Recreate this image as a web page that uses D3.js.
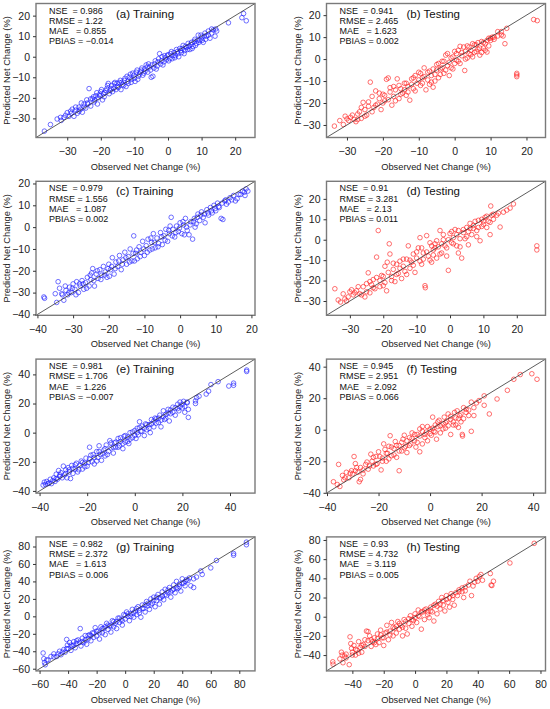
<!DOCTYPE html>
<html>
<head>
<meta charset="utf-8">
<script src="https://cdn.jsdelivr.net/npm/d3@7"></script>
<style>
  body { margin: 0; background: #fff; }
  text { font-family: "Liberation Sans", Arial, sans-serif; }
</style>
</head>
<body>
<div id="chart"></div>
<script>
"use strict";

// Observed vs predicted pairs [obs, pred]
const trainA = [[-36.8,-36.2],[-33,-30.3],[-31.8,-31],[-30.5,-28.5],[-30,-27.2],[-29.5,-29],[-28.8,-27.5],[-28,-29],[-27.5,-26],[-27,-27.5],[-26.5,-24.5],[-26,-25.5],[-25.5,-27],[-25,-23],[-24.5,-25],[-24,-22.5],[-23.5,-15.5],[-23,-24],[-22.5,-20.5],[-22,-22],[-21.5,-19],[-21,-23],[-20.5,-18.5],[-20,-17],[-19.5,-21],[-19,-19.5],[-18.5,-16.5],[-18,-14],[-17.5,-18],[-17,-15.5],[-16.5,-17],[-16,-13],[-15.5,-16],[-15,-14.5],[-14.5,-12.5],[-14,-16],[-13.5,-13.5],[-13,-11.5],[-12.5,-14.5],[-12,-12],[-11.5,-10],[-11,-12.5],[-10.5,-8],[-10,-10.5],[-9.5,-7.5],[-9,-11],[-8.5,-8.5],[-8,-6.5],[-7.5,-9],[-7,-6],[-6.5,-4],[-6,-7.5],[-5.5,-5],[-5,-10],[-4.5,-9.5],[-4,-3.5],[-3.5,-6],[-3,-2.5],[-2.5,1.5],[-2,-2],[-1.5,-4],[-1,0.5],[-0.5,-1.5],[0,1],[0.5,-1],[1,2.5],[1.5,0.5],[2,-0.5],[2.5,3.5],[3,1.5],[3.5,4],[4,2],[4.5,5.5],[5,3],[5.5,4.5],[6,6.5],[6.5,3.5],[7,7],[7.5,5],[8,8.5],[8.5,6.5],[9,10.5],[9.5,8],[10,9.5],[10.5,7],[11,11.5],[11.5,10],[12,12.5],[12.5,9],[13,11.5],[13.5,13],[14,10],[14.5,12.5],[18,16.5],[22,19],[22.5,21],[23.3,17.5],
  [-35,-33],[-32,-29.5],[-31,-29.5],[-29,-26.5],[-28.5,-25.5],[-27.5,-24.5],[-26.5,-26.5],[-25.8,-22.5],[-25,-24.5],[-24.2,-21],[-23.8,-23],[-23,-20.5],[-22.2,-19.5],[-21.8,-21],[-21.2,-17.5],[-20.8,-20],[-20.2,-19],[-19.8,-16],[-19.2,-18],[-18.8,-17.5],[-18.2,-15.5],[-17.8,-13],[-17.2,-16.5],[-16.8,-14],[-16.2,-15.5],[-15.8,-12.5],[-15.2,-13],[-14.8,-15],[-14.2,-11.5],[-13.8,-12.5],[-13.2,-14],[-12.8,-10.5],[-12.2,-9.5],[-11.8,-13],[-11.2,-8.5],[-10.8,-11],[-10.2,-9],[-9.8,-12],[-9.2,-6.5],[-8.8,-9.5],[-8.2,-7.5],[-7.8,-5.5],[-7.2,-8],[-6.8,-7],[-6.2,-5],[-5.8,-3.5],[-5.2,-6.5],[-4.8,-4],[-4.2,-5.5],[-3.8,-2],[-3.2,-4.5],[-2.8,-1],[-2.2,-3.5],[-1.8,0],[-1.2,-2.5],[-0.8,-0.5],[-0.2,0.5],[0.2,-2],[0.8,1.5],[1.2,-1],[1.8,2],[2.2,0.5],[2.8,2.5],[3.2,0],[3.8,3],[4.2,4],[4.8,1.5],[5.2,5],[5.8,3.5],[6.2,5],[6.8,6],[7.2,4],[7.8,7.5],[8.2,5.5],[8.8,8],[9.2,7],[9.8,10.5],[10.2,8],[10.8,10],[11.2,8.5],[12,10.5],[13,13.5],[14.2,13.5]];

const testB = [[-33.5,-30.5],[-31,-29.8],[-30.5,-26],[-30,-27.2],[-29,-26.5],[-28,-27.5],[-27.5,-28.5],[-27,-25],[-26.5,-24],[-26,-27],[-25.5,-19.7],[-25,-23],[-24.5,-25.5],[-24,-21.5],[-23.5,-10.5],[-23,-17],[-22.5,-22],[-22,-14.5],[-21.5,-20.5],[-21,-18],[-20.5,-23],[-20,-16],[-19.5,-19],[-19,-9.2],[-18.5,-8.6],[-18,-13],[-17.5,-21],[-17,-17],[-16.5,-14],[-16,-9],[-15.5,-18],[-15,-13.5],[-14.5,-15.5],[-14,-11],[-13.5,-16.5],[-13,-12.5],[-12.5,-18.7],[-12,-9],[-11.5,-13.5],[-11,-7.5],[-10.5,-11],[-10,-6],[-9.5,-12],[-9,-8.5],[-8.5,-4],[-8,-14],[-7.5,-9.5],[-7,-5.5],[-6.5,-10.5],[-6,-12.8],[-5.5,-7],[-5,-2.5],[-4.5,-8.5],[-4,-4.5],[-3.5,-1],[-3,-6.5],[-2.5,1.8],[-2,-3],[-1.5,-7.5],[-1,0.5],[-0.5,-4.5],[0,-2],[0.5,2.5],[1,-1],[1.5,5.8],[2,1.5],[2.8,-5.2],[3,3.5],[3.5,0.5],[4,5.5],[4.5,2],[5,7],[5.5,3],[6,6.5],[6.5,4.5],[7,1.8],[7.5,8],[8,5],[8.5,7],[9,3.2],[9.5,9.5],[10,8.5],[10.5,10],[11,9],[12,12.5],[13,11],[13.5,10.5],[14,7],[14.5,14],[17.3,-6.5],[17.3,-7.2],[17.3,-8],[22,18],[23,17.5],
  [-32,-28],[-29.5,-28],[-28.5,-25.5],[-27,-27.5],[-26,-22],[-25,-26],[-24,-19.5],[-23,-24],[-22,-21],[-21,-15.5],[-20,-20],[-19.5,-16.5],[-18.5,-18.5],[-18,-15],[-17,-12.5],[-16.5,-19],[-15.5,-12],[-15,-16],[-14,-14],[-13.5,-11],[-13,-15],[-12,-11.5],[-11.5,-8.5],[-11,-14.5],[-10,-9.5],[-9.5,-6.5],[-9,-11],[-8.5,-8],[-7.5,-6],[-7,-11.5],[-6.5,-7.5],[-6,-4.5],[-5.5,-10],[-5,-5],[-4.5,-2],[-4,-7],[-3.5,-4],[-3,-1],[-2.5,-5],[-2,2.5],[-1.5,-1.5],[-1,-4],[-0.5,1],[0,3.5],[0.5,-0.5],[1,4],[1.5,-2],[2,3],[2.5,5.5],[3,0],[3.5,6],[4,2.5],[4.5,4],[5,1],[5.5,6.5],[6,3.5],[6.5,7.5],[7,5],[7.5,3],[8,7.5],[8.5,4],[9,8.5],[9.5,6],[10,9.5],[11,10],[12,10.5],[13,12.5]];

const trainC = [[-38.2,-32],[-38,-32.6],[-34.6,-34.5],[-34.2,-25],[-33.8,-28],[-33.2,-30.5],[-32.6,-33.5],[-32,-29],[-31.5,-31],[-31,-27.5],[-30.5,-30],[-30,-26],[-29.5,-28.5],[-29,-25],[-28.5,-30],[-28,-27],[-27.5,-24.5],[-27,-28.5],[-26.5,-25.5],[-26,-23],[-25.5,-27],[-25,-24],[-24.5,-19],[-24,-27],[-23.5,-21.5],[-23,-23.5],[-22.5,-19.5],[-22,-22],[-21.5,-18],[-21,-20.5],[-20.5,-23],[-20,-17],[-19.5,-19.5],[-19,-14],[-18.5,-21.5],[-18,-16],[-17.5,-18],[-17,-13],[-16.5,-19.5],[-16,-15],[-15.5,-11.5],[-15,-17],[-14.5,-13.5],[-14,-10],[-13.5,-15.5],[-13,-4],[-12.5,-12],[-12,-14.5],[-11.5,-9],[-11,-11.5],[-10.5,-6.5],[-10,-13],[-9.5,-8.5],[-9,-5.5],[-8.5,-10.5],[-8,-7],[-7.5,-3],[-7,-9.5],[-6.5,-5],[-6,-7.5],[-5.5,-2.5],[-5,-8],[-4.5,-4],[-4,-1],[-3.5,-6.5],[-3,-3],[-2.5,4.5],[-2,-1],[-1.5,-4.5],[-1,0.5],[-0.5,-2],[0,2],[0.5,-3],[1,1],[1.5,4],[2,-1.5],[2.5,-3.5],[3,2.5],[3.5,-5.5],[4,4],[4.5,1.5],[5,6],[5.5,3],[6,7],[6.5,4.5],[7,2],[7.5,8],[8,5.5],[8.5,9],[9,6.5],[9.5,10],[10,7.5],[10.5,11],[11,9],[11.5,4],[12,3.5],[12.5,12],[13,10.5],[14,13.5],[15,14.5],[15.5,12],[16,13],[17,15],[18,16],[18.5,17.5],[19,16.5],
  [-35,-30.5],[-33,-31],[-32.2,-27],[-31.2,-30],[-30.2,-28],[-29.2,-31],[-28.2,-26],[-27.2,-26],[-26.2,-28],[-25.2,-22],[-24.2,-24.5],[-23.2,-20],[-22.2,-24],[-21.2,-22],[-20.2,-19],[-19.2,-18],[-18.2,-19],[-17.2,-15.5],[-16.2,-17],[-15.2,-14],[-14.2,-16],[-13.2,-12],[-12.2,-10.5],[-11.2,-13.5],[-10.2,-10],[-9.2,-11.5],[-8.2,-5],[-7.2,-7],[-6.2,-9],[-5.2,-4.5],[-4.2,-6],[-3.2,-1.5],[-2.2,-4],[-1.2,-2.5],[-0.2,-0.5],[0.8,2.5],[1.8,0],[2.8,1],[3.8,2.5],[4.8,4.5],[5.8,5.5],[6.8,6],[7.8,6.5],[8.8,7.5],[9.8,8.5],[10.8,9.5],[11.8,11],[12.8,12.5],[13.5,11.5],[14.5,12.5],[16.5,15],[17.5,16.5],[18.2,14.5],[-2.8,0.5],[1.2,-3.5],[4.2,0],[-7.8,-10],[-12.8,-15.5],[-19.8,-22.5],[-24.8,-21]];

const testD = [[-34.5,-24],[-33.5,-29.5],[-32.8,-30.5],[-32,-26.5],[-31.5,-29],[-30.5,-28],[-29.5,-24.5],[-29,-27],[-28,-25],[-27,-26.5],[-26,-23],[-25.5,-28],[-25,-21.5],[-24.5,-16.2],[-24,-26],[-23.5,-22],[-23,-19.5],[-22.5,-24],[-22,-8.5],[-21.5,4.5],[-21,-20],[-20.5,-17.5],[-20,-22.5],[-19.5,-13],[-19,-25],[-18.8,-11],[-18.2,-2],[-18,-7],[-17.5,-18],[-17,-14.5],[-16.5,-20.5],[-16,-12],[-15.5,-16.5],[-15,-10.5],[-14.5,-19],[-14,-13],[-13.5,-15.5],[-13,-9.5],[-12.5,-3],[-12,-14],[-11.5,-11],[-11,-7],[-10.5,-16],[-10,-9],[-9.5,-4],[-9,1],[-8.5,-12],[-8,-6.5],[-7.5,-22.5],[-7.4,-23.5],[-7,2],[-6.5,-8],[-6,-1.5],[-5.5,-11],[-5,-5],[-4.5,-2],[-4,-9],[-3.5,-3.5],[-3,4.5],[-2.5,-6.5],[-2,0],[-1.5,-3],[-1,-8],[-0.5,-15],[0,3],[0.5,-1.5],[1,1],[1.5,5],[2,-3],[2.5,-6.5],[3,-3.5],[3.5,-9],[4,3.5],[4.5,0.5],[5,6],[5.5,-2.5],[6,8],[6.5,2.5],[7,5.5],[7.5,9],[8,1.5],[8.5,6],[9,-0.5],[9.5,10],[10,7.5],[10.5,11],[11,6],[11.5,9],[12,2.5],[12.2,16.5],[12.5,12],[13,10],[14.5,13],[15,6.2],[16,13.5],[17,14.5],[18,15.5],[19,17.5],[26,-3],[26,-5],
  [-31,-30],[-30,-25.5],[-28.5,-26],[-27.5,-23],[-26.5,-27],[-25,-25.5],[-24,-20.5],[-23,-23.5],[-22,-18.5],[-21,-23],[-20,-18],[-19.5,-21],[-18.5,-16],[-17.5,-20],[-17,-11.5],[-16,-17],[-15,-14],[-14,-9.5],[-13,-17],[-12,-10],[-11,-12.5],[-10,-6],[-9,-10.5],[-8.5,-4],[-8,-9.5],[-7,-6],[-6,-10],[-5.5,-3],[-5,-7.5],[-4.5,-4],[-4,-0.5],[-3,-7],[-2.5,-2],[-2,2.5],[-1,-4],[-0.5,0],[0.5,4],[1,-2],[2,2.5],[2.5,4.5],[3,0.5],[4,5],[5,1.5],[5.5,4],[6,5.5],[7,7],[8,4.5],[8.5,9.5],[9.5,6.5],[10,9],[11,11.5],[12,8.5],[13,12.5],[14,12]];

const trainE = [[-38.5,-36],[-38,-34],[-37.5,-35.5],[-37,-33.5],[-36,-34.5],[-35.5,-32],[-35,-35],[-34,-31],[-33.5,-33.5],[-33,-28.5],[-32.5,-32],[-32,-26],[-31.5,-30],[-31,-27.5],[-30,-23],[-29.5,-29],[-29,-25.5],[-28.5,-31],[-28,-24],[-27.5,-27],[-27,-31.5],[-26.5,-22.5],[-26,-28],[-25,-25],[-24.5,-21],[-24,-27],[-23,-22.5],[-22.5,-19.5],[-22,-25],[-21,-21],[-20.5,-17.5],[-20,-23],[-19,-10],[-19,-18],[-18,-20],[-17.5,-15],[-17,-21.5],[-16,-13],[-15.5,-17],[-15,-9],[-14.5,-15],[-14,-19],[-13,-12],[-12.5,-16],[-12,-8.5],[-11,-13],[-10.5,-5.5],[-10,-10.5],[-9,-14],[-8.5,-7],[-8,-10],[-7,-4],[-6.5,-9],[-6,-6],[-5,-11],[-4.5,-2.5],[-4,-6.5],[-3,-3],[-2.5,-7.5],[-2,0],[-1,-3.5],[0,1.5],[0.5,-4],[1,3],[1.5,-1.5],[2,7.5],[2.5,1],[3,4.5],[4,-2],[4.5,6],[5,2],[6,5.5],[6.5,0],[7,9],[8,4],[8.5,10],[9,6.5],[10,7],[10.5,12],[11,4],[12,15],[12.5,9],[13,12.5],[14,16],[14.5,8],[15,13],[16,17.5],[17,12],[18,19.5],[18.5,15],[19,21],[20,17],[20.5,21.5],[21,14],[22,20.5],[22.5,10.5],[22.5,16],[25.5,20],[25.5,21.8],[26,24],[27,25],[30,26.5],[31,28.5],[32,33],[35,35],[39.5,32],[41.5,34],[41.5,32.5],[47,43],[47,42],
  [-36.5,-35],[-34.5,-33],[-33,-31.5],[-31.5,-29],[-30.5,-31],[-29,-28],[-27.5,-25.5],[-26,-24.5],[-25,-22],[-23.5,-25.5],[-22,-20.5],[-21,-23.5],[-19.5,-20.5],[-18.5,-15.5],[-17,-17],[-16,-19.5],[-15,-13],[-13.5,-14.5],[-12.5,-11],[-11.5,-15],[-10,-7],[-9,-10],[-8,-6.5],[-7,-10],[-6,-3.5],[-5,-7.5],[-4,-2],[-3,-6],[-2,-4.5],[-1,0.5],[0,-2],[1,0],[2,3.5],[3,1],[4,3],[5,5.5],[6,3],[7,6],[8,8],[9,9.5],[10,10],[11,8.5],[12,11],[13,10],[14,13.5],[15,15.5],[16,14],[17,17],[18,16.5],[19,18],[20,19.5],[21,18],[22,21]];

const testF = [[-37.5,-33],[-36,-34.8],[-35.5,-22],[-35,-36],[-34,-29],[-33.5,-31.8],[-32.5,-27],[-31.5,-30.5],[-30.5,-26],[-30,-28],[-29.5,-17],[-29,-21.5],[-28.5,-24],[-28,-27],[-27.5,-33],[-27,-31.5],[-26,-25.5],[-25,-22],[-24,-25],[-23,-15.5],[-22.5,-20],[-22,-23],[-21,-17],[-20.5,-21.5],[-20,-14],[-19,-25.5],[-18.5,-18],[-18,-9],[-17.5,-12.5],[-17,-20],[-16.5,-15],[-16,-10.5],[-15.5,-3.8],[-15,-16.5],[-14,-12],[-13.5,-7.5],[-13,-17.5],[-12,-26],[-12,-10],[-11,-13.5],[-10.5,-6],[-10,-3.5],[-9.5,-10.5],[-9,-14.5],[-8,-5],[-7.5,-9],[-7,-2],[-6,-7],[-5.5,-11],[-5,-3],[-4,-14],[-4,0.5],[-3,-9],[-3,2],[-2,-5],[-1.5,-1.5],[-1,-7],[0,0.5],[0.5,-3.5],[1,8],[1.5,-1],[2,3],[2.5,-6],[3,2],[3.5,6],[4,-2],[5,4],[5.5,8],[6,1],[6.5,5.5],[7,10],[8,-3],[8,6.5],[9,3],[9.5,11],[10,7.5],[10.5,12],[11,1.5],[11.5,9],[12,5],[12.5,-3],[12.6,-4],[13,14],[14,11],[15,12.5],[16,-1],[16,17.5],[17,9],[18,17],[19,18.5],[21,15.5],[21,21.5],[23,10],[26,19.5],[30,25],[32.5,32],[35,35],[39.5,35.5],[41.5,32],
  [-33,-30.5],[-31,-27.5],[-29,-26],[-27,-24],[-26,-28],[-24.5,-20.5],[-23.5,-23],[-22,-17.5],[-21,-22],[-19.5,-17],[-18.5,-20],[-17,-15],[-16,-18.5],[-15,-11],[-14,-16],[-13,-10],[-12,-13.5],[-11,-8],[-10,-11.5],[-9,-7],[-8,-10],[-7,-5.5],[-6,-3],[-5,-8],[-4,-4],[-3,-1],[-2,-3],[-1,2],[0,-2.5],[1,1],[2,-1.5],[3,5],[4,2.5],[5,0.5],[6,4.5],[7,2.5],[8,8.5],[9,5],[10,3],[11,7],[12,10],[13,7],[14,13],[15,9],[17,14]];

const trainG = [[-57.5,-42],[-57,-48.5],[-56.5,-53],[-56,-55.5],[-55,-50],[-52,-46],[-50,-43],[-48,-46],[-46,-40],[-45,-44],[-43,-38],[-42,-41],[-41,-26.5],[-40.5,-33],[-40,-37],[-39,-30],[-38,-39],[-37,-34],[-36,-29],[-35,-36],[-34,-31],[-33,-27],[-31.5,-14],[-31,-34],[-30,-25],[-29,-30],[-28,-22],[-27,-32],[-26,-26],[-25,-21],[-24,-28],[-23,-19],[-22,-24],[-21,-13],[-20,-22.5],[-19,-17],[-18,-26],[-17,-12],[-16,-19],[-15,-14],[-14,-21],[-13,-8],[-12,-15],[-11,-11],[-10,-18],[-9,-5],[-8,-12],[-7,-8],[-6,-14],[-5,-2],[-4,-7],[-3,-4],[-2,-10],[-1,2],[0,-3],[1,5],[2,0],[3,-5],[4,3],[5,8],[6,-1],[7,6],[8,2],[9,11],[10,7],[11,-1],[12,13],[13,9],[14,5],[15,17],[16,12],[17,8],[18,20],[19,15],[20,22],[21,11],[22,18],[23,25],[24,14],[25,21],[26,28],[27,19],[28,31],[29,24],[30,27],[31,33],[32,22],[33,30],[34,36],[35,27],[36,40],[37,32],[38,37],[39,29],[40,43],[41,38],[42,35],[43,42],[46,35],[48,33],[48,43],[50,45],[53,52],[54,48],[60,55.5],[64,64],[76,70],[76,72],[85,82],[85,85],
  [-54,-50],[-50,-46.5],[-47,-43],[-44,-41],[-41,-37],[-38,-33],[-36,-33],[-34,-28],[-32,-30],[-30,-29],[-28,-27],[-26,-22],[-24,-22],[-22,-19],[-20,-17],[-18,-19],[-16,-14],[-14,-12],[-12,-10],[-10,-11],[-8,-6],[-6,-6],[-4,-2],[-2,-5],[0,1],[2,3],[4,0],[6,4],[8,9],[10,4],[12,9],[14,13],[16,15],[18,13],[20,18],[22,22],[24,21],[26,23],[28,25],[30,30],[32,28],[34,31],[36,33],[38,34],[40,38],[42,40],[44,41],[45,44]];

const testH = [[-52.5,-47],[-52.3,-49.5],[-47,-37],[-46.5,-40],[-46,-48],[-45,-41],[-44,-39],[-42,-50],[-41.5,-21],[-41,-28],[-40.5,-33],[-40,-37],[-39,-30],[-38,-40],[-37,-35],[-36,-26],[-35,-32],[-34,-37],[-33,-29],[-32,-24],[-31,-15],[-30,-15.5],[-29,-20],[-28,-31],[-27,-26],[-26,-22],[-25,-29],[-24,-18],[-23,-27],[-22,-14],[-21,-22],[-20,-30],[-19,-17],[-18,-9],[-17,-24],[-16,-15],[-15,-6],[-14,-20],[-13,-12],[-12,-17],[-11,-5],[-10,-13],[-9,-9],[-8,-20],[-7,-3],[-6,-12],[-5,-18],[-4,-7],[-3,1],[-2,-10],[-1,-4],[0,3],[1,-6],[2,7],[3,0],[4,-13],[5,5],[6,-3],[7,8],[8,2],[9,-1],[10,10],[11,5],[12,-4.5],[13,13],[14,3],[15,16],[16,8],[17,20],[18,12],[19,6],[20,22],[21,15],[22,10],[23,24],[24,18],[25,12],[27,22],[28,26],[30,30],[31,20],[32,27],[35,37],[36,22],[37,32],[39,40],[41,42],[42,44],[43,38],[48,45],[48.5,33],[49,32.5],[50,37],[60.5,56],[76,76.5],
  [-48,-44],[-44,-43],[-40,-40],[-38,-34],[-36,-38],[-34,-30],[-32,-31],[-30,-25],[-28,-24],[-26,-27],[-24,-23],[-22,-19],[-20,-22],[-18,-16],[-16,-19],[-14,-11],[-12,-10],[-10,-7],[-8,-11],[-6,-5],[-4,-2],[-2,-3],[0,-1],[2,1],[4,5],[6,7],[8,5],[10,6],[12,12],[14,11],[16,13],[18,17],[20,18],[22,20],[24,22],[26,25],[28,28],[30,26],[32,31],[34,33],[38,36],[40,37]];

// Axis limits (same for x and y) and tick values
const domA = [-39.3, 25.9], domB = [-35.7, 25.3];
const domC = [-40.4, 21.0], domD = [-37.0, 28.6];
const domE = [-41.5, 50.5], domF = [-40.2, 44.8];
const domG = [-62.5, 91.0], domH = [-56.5, 83.2];

const ticks30 = [-30, -20, -10, 0, 10, 20];
const ticks40 = [-40, -30, -20, -10, 0, 10, 20];
const ticks40by20 = [-40, -20, 0, 20, 40];
const ticks60 = [-60, -40, -20, 0, 20, 40, 60, 80];
const ticks40to80 = [-40, -20, 0, 20, 40, 60, 80];

const titles = ["(a) Training", "(b) Testing", "(c) Training", "(d) Testing",
                "(e) Training", "(f) Testing", "(g) Training", "(h) Testing"];

const statsA = ["NSE  = 0.986", "RMSE = 1.22",  "MAE   = 0.855", "PBIAS = \u22120.014"];
const statsB = ["NSE  = 0.941", "RMSE = 2.465", "MAE   = 1.623", "PBIAS = 0.002"];
const statsC = ["NSE  = 0.979", "RMSE = 1.556", "MAE   = 1.087", "PBIAS = 0.002"];
const statsD = ["NSE  = 0.91",  "RMSE = 3.281", "MAE   = 2.13",  "PBIAS = 0.011"];
const statsE = ["NSE  = 0.981", "RMSE = 1.706", "MAE   = 1.226", "PBIAS = \u22120.007"];
const statsF = ["NSE  = 0.945", "RMSE = 2.951", "MAE   = 2.092", "PBIAS = 0.066"];
const statsG = ["NSE  = 0.982", "RMSE = 2.372", "MAE   = 1.613", "PBIAS = 0.006"];
const statsH = ["NSE  = 0.93",  "RMSE = 4.732", "MAE   = 3.119", "PBIAS = 0.005"];

const BLUE = "#1f1fff", RED = "#ff2020";

const panels = [
    {data: trainA, dom: domA, ticks: ticks30,     stats: statsA, color: BLUE},
    {data: testB,  dom: domB, ticks: ticks30,     stats: statsB, color: RED},
    {data: trainC, dom: domC, ticks: ticks40,     stats: statsC, color: BLUE},
    {data: testD,  dom: domD, ticks: ticks30,     stats: statsD, color: RED},
    {data: trainE, dom: domE, ticks: ticks40by20, stats: statsE, color: BLUE},
    {data: testF,  dom: domF, ticks: ticks40by20, stats: statsF, color: RED},
    {data: trainG, dom: domG, ticks: ticks60,     stats: statsG, color: BLUE},
    {data: testH,  dom: domH, ticks: ticks40to80, stats: statsH, color: RED}
];

// Layout
const WIDTH = 550, HEIGHT = 709;
const boxW = 219, boxH = 134;
const colX = [36, 326.5];
const rowY = [3.5, 181.3, 359.1, 536.9];

const svg = d3.select("#chart").append("svg")
    .attr("width", WIDTH)
    .attr("height", HEIGHT)
    .style("background", "#fff");

panels.forEach(function (p, i) {
    var left = colX[i % 2];
    var top = rowY[Math.floor(i / 2)];

    var x = d3.scaleLinear().domain(p.dom).range([left, left + boxW]);
    var y = d3.scaleLinear().domain(p.dom).range([top + boxH, top]);

    var g = svg.append("g");

    // points
    g.append("g")
        .selectAll("circle")
        .data(p.data)
        .enter().append("circle")
        .attr("cx", function (d) { return x(d[0]); })
        .attr("cy", function (d) { return y(d[1]); })
        .attr("r", 2.3)
        .attr("fill", "none")
        .attr("stroke", p.color)
        .attr("stroke-opacity", 0.85)
        .attr("stroke-width", 0.75);

    // 1:1 line
    g.append("line")
        .attr("x1", x(p.dom[0])).attr("y1", y(p.dom[0]))
        .attr("x2", x(p.dom[1])).attr("y2", y(p.dom[1]))
        .attr("stroke", "#333")
        .attr("stroke-width", 0.8);

    // frame
    g.append("rect")
        .attr("x", left).attr("y", top)
        .attr("width", boxW).attr("height", boxH)
        .attr("fill", "none")
        .attr("stroke", "#7a7a7a")
        .attr("stroke-width", 1.4);

    // axes
    var xAxis = g.append("g")
        .attr("transform", "translate(0," + (top + boxH) + ")")
        .call(d3.axisBottom(x).tickValues(p.ticks).tickSize(3).tickPadding(7));
    var yAxis = g.append("g")
        .attr("transform", "translate(" + left + ",0)")
        .call(d3.axisLeft(y).tickValues(p.ticks).tickSize(3).tickPadding(3));

    [xAxis, yAxis].forEach(function (a) {
        a.select(".domain").remove();
        a.selectAll(".tick line").attr("stroke", "#333");
        a.selectAll(".tick text")
            .attr("fill", "#222")
            .style("font-size", "10.5px")
            .style("font-family", "'Liberation Sans', Arial, sans-serif");
    });

    // axis titles
    g.append("text")
        .attr("x", left + boxW / 2)
        .attr("y", top + boxH + 32)
        .attr("text-anchor", "middle")
        .attr("fill", "#222")
        .style("font-size", "9.3px")
        .text("Observed Net Change (%)");

    g.append("text")
        .attr("transform", "translate(" + (left - 26) + "," + (top + boxH / 2) + ")rotate(-90)")
        .attr("text-anchor", "middle")
        .attr("fill", "#222")
        .style("font-size", "9.3px")
        .text("Predicted Net Change (%)");

    // panel title
    g.append("text")
        .attr("x", left + 80)
        .attr("y", top + 14)
        .attr("fill", "#111")
        .style("font-size", "11.5px")
        .text(titles[i]);

    // statistics (spaces kept as non-breaking so the "=" columns line up as in R)
    g.append("g")
        .selectAll("text")
        .data(p.stats)
        .enter().append("text")
        .attr("x", left + 13)
        .attr("y", function (d, k) { return top + 10 + k * 10.2; })
        .attr("fill", "#111")
        .style("font-size", "9px")
        .text(function (d) { return d.replace(/ /g, "\u00a0"); });
});
</script>
</body>
</html>
